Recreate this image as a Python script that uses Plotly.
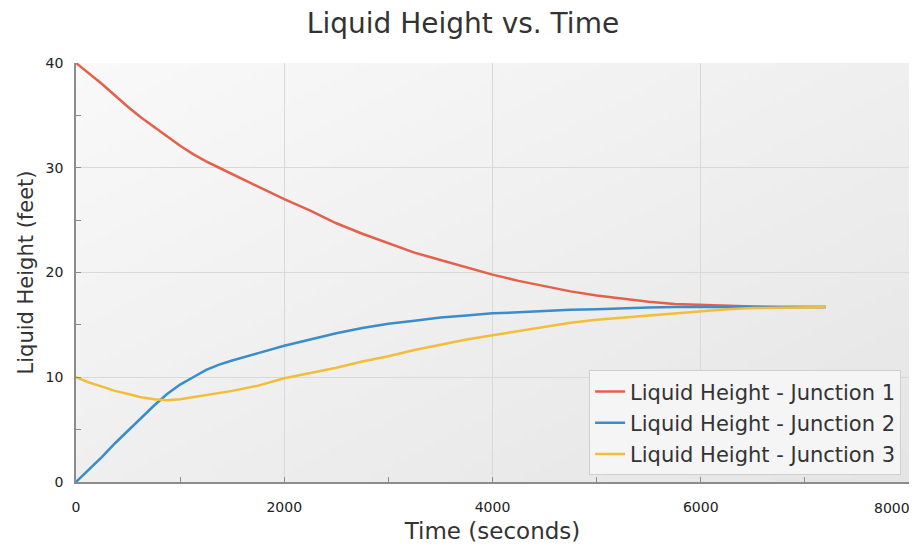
import base64, struct, zlib
import plotly.graph_objects as go

# ---- data ----
time_s = [0, 125, 250, 375, 500, 625, 750, 875, 1000, 1125, 1250, 1375, 1500, 1750, 2000,
          2250, 2500, 2750, 3000, 3250, 3500, 3750, 4000, 4250, 4500, 4750, 5000, 5250,
          5500, 5750, 6000, 6250, 6500, 6750, 7000, 7200]
junction1 = [40.0, 39.0, 38.0, 36.9, 35.8, 34.8, 33.9, 33.0, 32.1, 31.3, 30.6, 30.0, 29.4,
             28.2, 27.0, 25.9, 24.7, 23.7, 22.8, 21.9, 21.2, 20.5, 19.8, 19.2, 18.7, 18.2,
             17.8, 17.5, 17.2, 17.0, 16.9, 16.8, 16.75, 16.7, 16.7, 16.7]
junction2 = [0.0, 1.2, 2.4, 3.7, 4.9, 6.1, 7.3, 8.4, 9.3, 10.0, 10.7, 11.2, 11.6,
             12.3, 13.0, 13.6, 14.2, 14.7, 15.1, 15.4, 15.7, 15.9, 16.1, 16.2, 16.35, 16.45,
             16.5, 16.6, 16.65, 16.7, 16.7, 16.7, 16.7, 16.7, 16.7, 16.7]
junction3 = [10.0, 9.5, 9.1, 8.7, 8.4, 8.1, 7.9, 7.8, 7.9, 8.1, 8.3, 8.5, 8.7,
             9.2, 9.9, 10.4, 10.9, 11.5, 12.0, 12.6, 13.1, 13.6, 14.0, 14.4, 14.8, 15.2,
             15.5, 15.7, 15.95, 16.15, 16.35, 16.5, 16.6, 16.65, 16.7, 16.7]
series_names = ["Liquid Height - Junction 1", "Liquid Height - Junction 2",
                "Liquid Height - Junction 3"]
series_colors = ["#E4604A", "#3A8DC8", "#F2BD38"]
x_tick_vals = [0, 2000, 4000, 6000, 8000]
x_tick_text = ["0", "2000", "4000", "6000", ""]
x_last_label = "8000"


def gradient_png(w, h, c0, c1):
    raw = b""
    for y in range(h):
        row = b"\x00"
        for x in range(w):
            t = (x / (w - 1) + y / (h - 1)) / 2
            row += bytes(int(round(c0[i] + (c1[i] - c0[i]) * t)) for i in range(3))
        raw += row

    def chunk(tag, data):
        c = struct.pack(">I", len(data)) + tag + data
        return c + struct.pack(">I", zlib.crc32(tag + data) & 0xffffffff)

    png = b"\x89PNG\r\n\x1a\n"
    png += chunk(b"IHDR", struct.pack(">IIBBBBB", w, h, 8, 2, 0, 0, 0))
    png += chunk(b"IDAT", zlib.compress(raw, 9))
    png += chunk(b"IEND", b"")
    return "data:image/png;base64," + base64.b64encode(png).decode()


fig = go.Figure()
for i, (name, vals, col) in enumerate(zip(series_names, [junction1, junction2, junction3],
                                          series_colors)):
    fig.add_trace(go.Scatter(x=time_s, y=vals, mode="lines", name=name,
                             legendgroup=f"g{i}",
                             line=dict(color=col, width=2.5)))

font = "DejaVu Sans"
# page body has an 8px margin, so the figure is sized to fit the 917x552 window
fig.update_layout(
    width=901, height=536,
    margin=dict(l=68, r=0, t=55, b=62, autoexpand=False),
    paper_bgcolor="white",
    plot_bgcolor="#f0f0f0",
    font=dict(family=font, color="#333333"),
    title=dict(text="Liquid Height vs. Time", x=0.505, xanchor="center",
               y=0.972, yanchor="middle", font=dict(size=28, color="#333333")),
    images=[dict(source=gradient_png(64, 64, (249, 249, 249), (229, 229, 229)),
                 xref="paper", yref="paper", x=0, y=1, sizex=1, sizey=1,
                 xanchor="left", yanchor="top", sizing="stretch", layer="below")],
    legend=dict(x=0.9905, y=0.016, xanchor="right", yanchor="bottom",
                bgcolor="#f5f5f5", bordercolor="#cfcfcf", borderwidth=1,
                font=dict(size=21, color="#333333"), itemwidth=30,
                tracegroupgap=1),
    annotations=[dict(text=x_last_label, x=8000, y=0, xref="x", yref="y",
                      xanchor="right", yanchor="top", yshift=-16, xshift=3,
                      showarrow=False, font=dict(size=14, color="#222222"))],
    showlegend=True,
)
fig.update_xaxes(
    range=[0, 8000], tickvals=x_tick_vals, ticktext=x_tick_text,
    showgrid=True, gridcolor="#d9d9d9", gridwidth=1,
    showline=True, linecolor="#8c8c8c", linewidth=1.5, mirror=False, zeroline=False,
    ticks="inside", ticklen=5, tickcolor="#8c8c8c",
    minor=dict(dtick=1000, ticks="inside", ticklen=5, tickcolor="#8c8c8c", showgrid=False),
    tickfont=dict(size=14, color="#222222"), ticklabelstandoff=11,
    title=dict(text="Time (seconds)", font=dict(size=23, color="#333333"), standoff=11),
)
fig.update_yaxes(
    range=[0, 40], dtick=10, showgrid=True, gridcolor="#d9d9d9", gridwidth=1,
    showline=True, linecolor="#8c8c8c", linewidth=1.5, mirror=False, zeroline=False,
    ticks="inside", ticklen=5, tickcolor="#8c8c8c",
    minor=dict(dtick=5, ticks="inside", ticklen=5, tickcolor="#8c8c8c", showgrid=False),
    tickfont=dict(size=14, color="#222222"), ticklabelstandoff=8,
    title=dict(text="Liquid Height (feet)", font=dict(size=21, color="#333333"), standoff=6),
)
fig.write_html("out.html")
